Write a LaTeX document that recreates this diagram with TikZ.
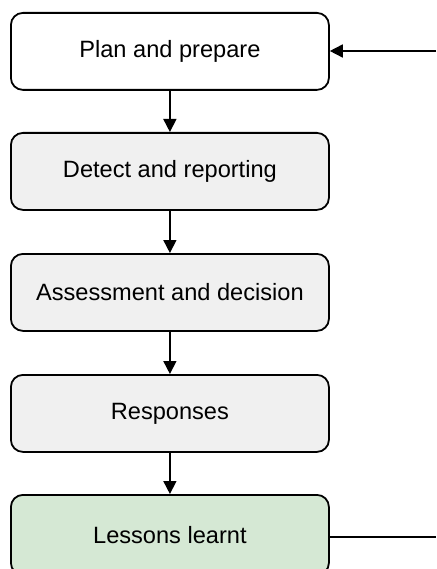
\documentclass[tikz,border=0pt]{standalone}
\usepackage{fontspec}
\setmainfont{Liberation Sans}
\usetikzlibrary{arrows.meta}
\definecolor{stepgray}{RGB}{240,240,240}
\definecolor{stepgreen}{RGB}{213,232,212}
\begin{document}
\begin{tikzpicture}[x=1pt,y=-1pt,
  stepbox/.style={draw=black, line width=1.8pt, rounded corners=12pt,
    minimum width=318pt, minimum height=77pt, inner sep=0pt,
    font=\fontsize{23.6}{27}\selectfont, anchor=north west},
  link/.style={line width=1.6pt, -{Triangle[length=13pt,width=13pt]}},
  plain/.style={line width=1.6pt}]
\useasboundingbox (0,0) rectangle (436,569);
\begin{scope}
\clip (0,0) rectangle (436,569);
\node[stepbox, fill=white] (plan) at (10,12) {Plan and prepare};
\node[stepbox, fill=stepgray] (detect) at (10,132) {Detect and reporting};
\node[stepbox, fill=stepgray] (assess) at (10,253) {Assessment and decision};
\node[stepbox, fill=stepgray] (resp) at (10,374) {Responses};
\node[stepbox, fill=stepgreen, minimum height=80pt] (lessons) at (10,494) {Lessons learnt};
\coordinate (inR) at (436,51);
\coordinate (outR) at (436,537);
\draw[link] (plan) -- (detect);
\draw[link] (detect) -- (assess);
\draw[link] (assess) -- (resp);
\draw[link] (resp) -- (lessons);
\draw[link] (inR) -- (plan.east |- inR);
\draw[plain] (lessons.east |- outR) -- (outR);
\end{scope}
\end{tikzpicture}
\end{document}
